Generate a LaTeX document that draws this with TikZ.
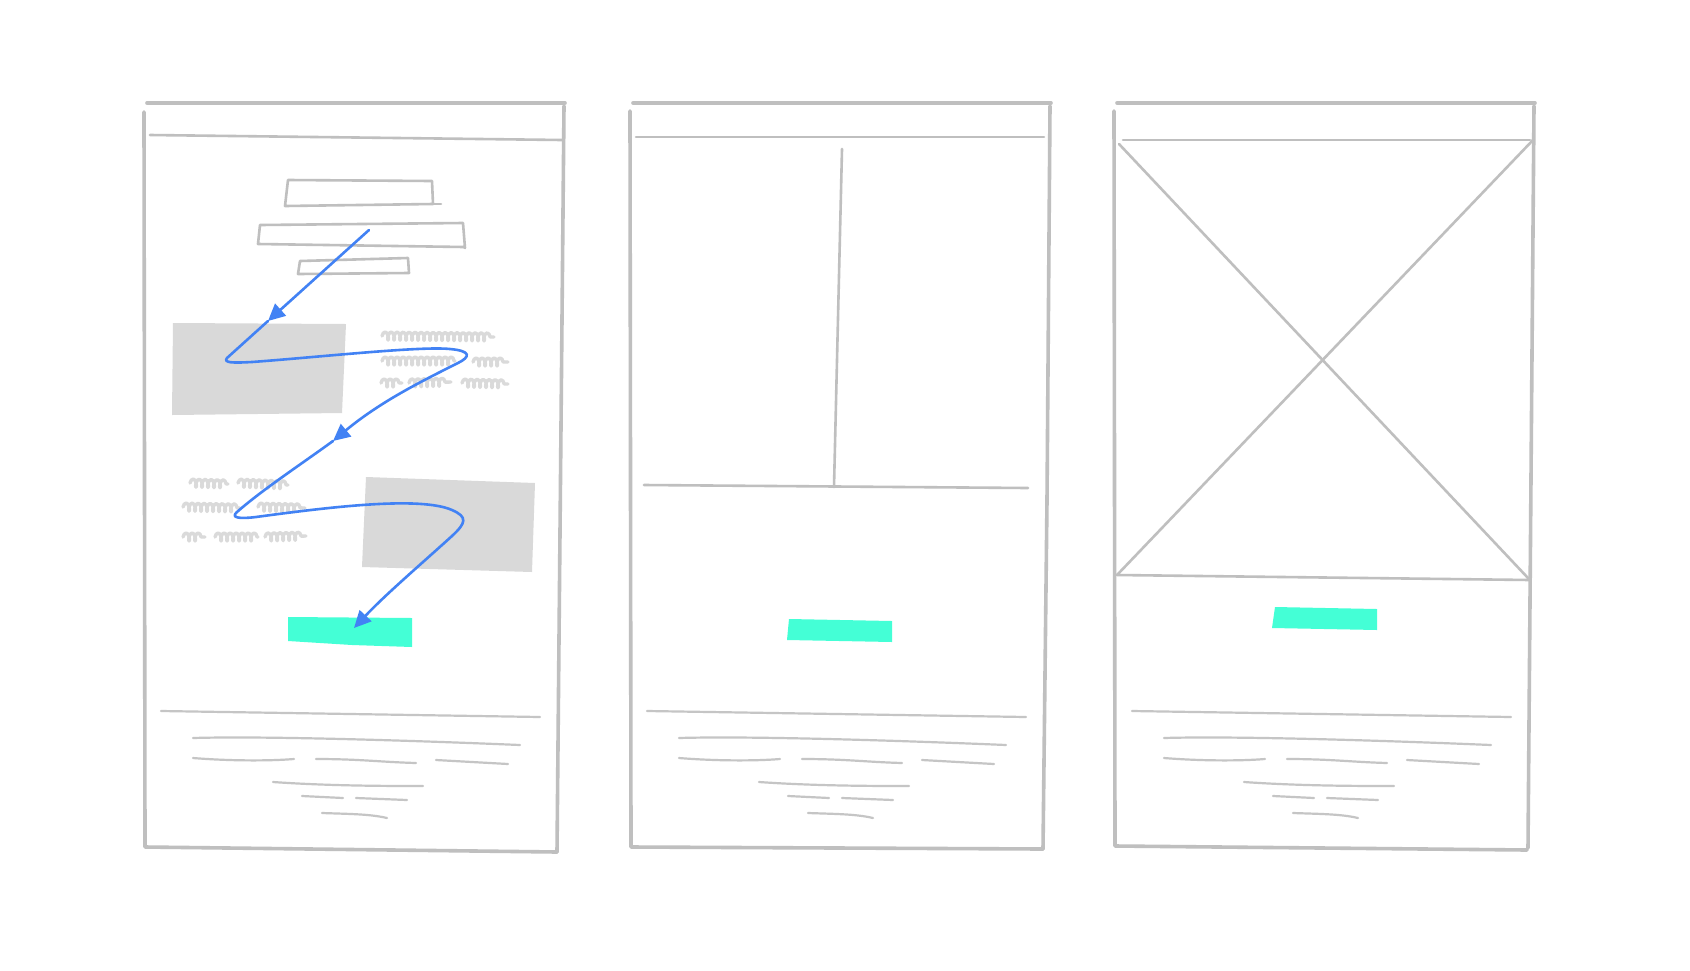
\documentclass[tikz,border=0pt]{standalone}
\usetikzlibrary{arrows.meta,decorations.pathmorphing}
\definecolor{framegray}{HTML}{BFBFBF}
\definecolor{fillgray}{HTML}{D9D9D9}
\definecolor{scribgray}{HTML}{DADADA}
\definecolor{ctateal}{HTML}{44FFD6}
\definecolor{flowblue}{HTML}{4282F4}
\tikzset{
  frame/.style={draw=framegray, line width=3.6pt, line cap=round, line join=round},
  inner/.style={draw=framegray, line width=2.6pt, line cap=round, line join=round},
  foot/.style={draw=framegray!90, line width=2.2pt, line cap=round},
  imgbox/.style={fill=fillgray, draw=none},
  cta/.style={fill=ctateal, draw=none},
  scrib/.style={draw=scribgray, line width=3.4pt, line cap=round, line join=round, decorate,
    decoration={coil, amplitude=4pt, segment length=6pt, aspect=0.4}},
  flow/.style={draw=flowblue, line width=2.6pt, line cap=round, line join=round},
  flowtip/.style={-{Triangle[length=17pt,width=16pt]}}
}
\newcommand{\footerlines}[1]{%
  \begin{scope}[xshift=#1]
    \draw[foot] (161,711) -- (540,717);
    \draw[foot] (193,738) .. controls (260,736) and (400,740) .. (520,745);
    \draw[foot] (193,758) .. controls (230,761) and (270,761) .. (294,759);
    \draw[foot] (316,759) .. controls (360,759) and (380,762) .. (416,763);
    \draw[foot] (436,760) -- (508,764);
    \draw[foot] (273,782) .. controls (330,786) and (390,786) .. (423,786);
    \draw[foot] (302,796) -- (343,798);
    \draw[foot] (356,798) -- (407,800);
    \draw[foot] (322,813) .. controls (350,814) and (370,814) .. (387,818);
  \end{scope}}
\begin{document}
\begin{tikzpicture}[x=1pt,y=-1pt]
\useasboundingbox[fill=white] (0,0) rectangle (1690,970);

% ================= Panel 1 =================
\draw[frame] (147,103) -- (565,103);
\draw[frame] (144,112) -- (145,847) -- (557,852);
\draw[frame] (564,106) -- (557,852);
\draw[inner] (150,135) -- (562,140);

% header text boxes
\draw[inner] (288,180) -- (432,181) -- (433,204) -- (285,206) -- cycle;
\draw[inner] (433,204) -- (441,204);
\draw[inner] (260,225) -- (463,223) -- (465,248) -- (464,247) -- (258,244) -- cycle;
\draw[inner] (300,261) -- (408,258) -- (409,273) -- (298,274) -- cycle;

% image blocks
\fill[imgbox] (173,323) -- (346,324) -- (342,413) -- (172,415) -- cycle;
\fill[imgbox] (366,477) -- (535,483) -- (532,572) -- (362,567) -- cycle;

% scribbled text right of first image
\draw[scrib] (382,336) -- (494,337);
\draw[scrib] (382,361) -- (455,361);
\draw[scrib] (473,362) -- (508,362);
\draw[scrib] (381,383) -- (402,383);
\draw[scrib] (409,383) -- (451,382);
\draw[scrib] (462,383) -- (508,384);

% scribbled text left of second image
\draw[scrib] (190,483) -- (228,484);
\draw[scrib] (238,483) -- (288,485);
\draw[scrib] (183,507) -- (240,508);
\draw[scrib] (258,507) -- (305,508);
\draw[scrib] (183,537) -- (205,537);
\draw[scrib] (215,537) -- (258,537);
\draw[scrib] (265,537) -- (306,536);

% call to action
\fill[cta] (288,617) -- (412,618) -- (412,647) -- (352,645) -- (288,641) -- cycle;

% reading path
\coordinate (s0) at (369,230);
\coordinate (m1) at (268,321);
\coordinate (t1) at (227,358);
\coordinate (m2) at (333,441);
\coordinate (t2) at (237,512);
\coordinate (e3) at (354,628);
\draw[flow,flowtip] (s0) -- (m1);
\draw[flow,flowtip] (m1) -- (t1)
  .. controls (223,363) and (233,363) .. (252,362)
  .. controls (320,357) and (420,346) .. (450,349)
  .. controls (472,351) and (470,357) .. (458,363)
  .. controls (420,382) and (380,402) .. (m2);
\draw[flow,flowtip] (m2)
  .. controls (300,465) and (262,490) .. (t2)
  .. controls (230,518) and (240,519) .. (256,517)
  .. controls (330,507) and (420,496) .. (452,510)
  .. controls (468,517) and (466,523) .. (452,536)
  .. controls (420,565) and (385,595) .. (e3);

\footerlines{0}

% ================= Panel 2 =================
\draw[frame] (633,103) -- (1051,103);
\draw[frame] (630,111) -- (631,847) -- (1043,849);
\draw[frame] (1050,106) -- (1047,500) -- (1043,849);
\draw[inner] (636,137) -- (1044,137);
\draw[inner] (842,149) -- (834,487);
\draw[inner] (644,485) -- (1028,488);
\fill[cta] (789,619) -- (892,621) -- (892,642) -- (787,640) -- cycle;
\footerlines{486}

% ================= Panel 3 =================
\draw[frame] (1117,103) -- (1535,103);
\draw[frame] (1114,111) -- (1115,846) -- (1527,850);
\draw[frame] (1534,106) -- (1528,848);
\draw[inner] (1123,140) -- (1530,140);
\draw[inner] (1119,144) -- (1528,578);
\draw[inner] (1533,140) -- (1117,575);
\draw[inner] (1117,575) -- (1530,580);
\fill[cta] (1275,607) -- (1377,609) -- (1377,630) -- (1272,628) -- cycle;
\footerlines{971}
\end{tikzpicture}
\end{document}
